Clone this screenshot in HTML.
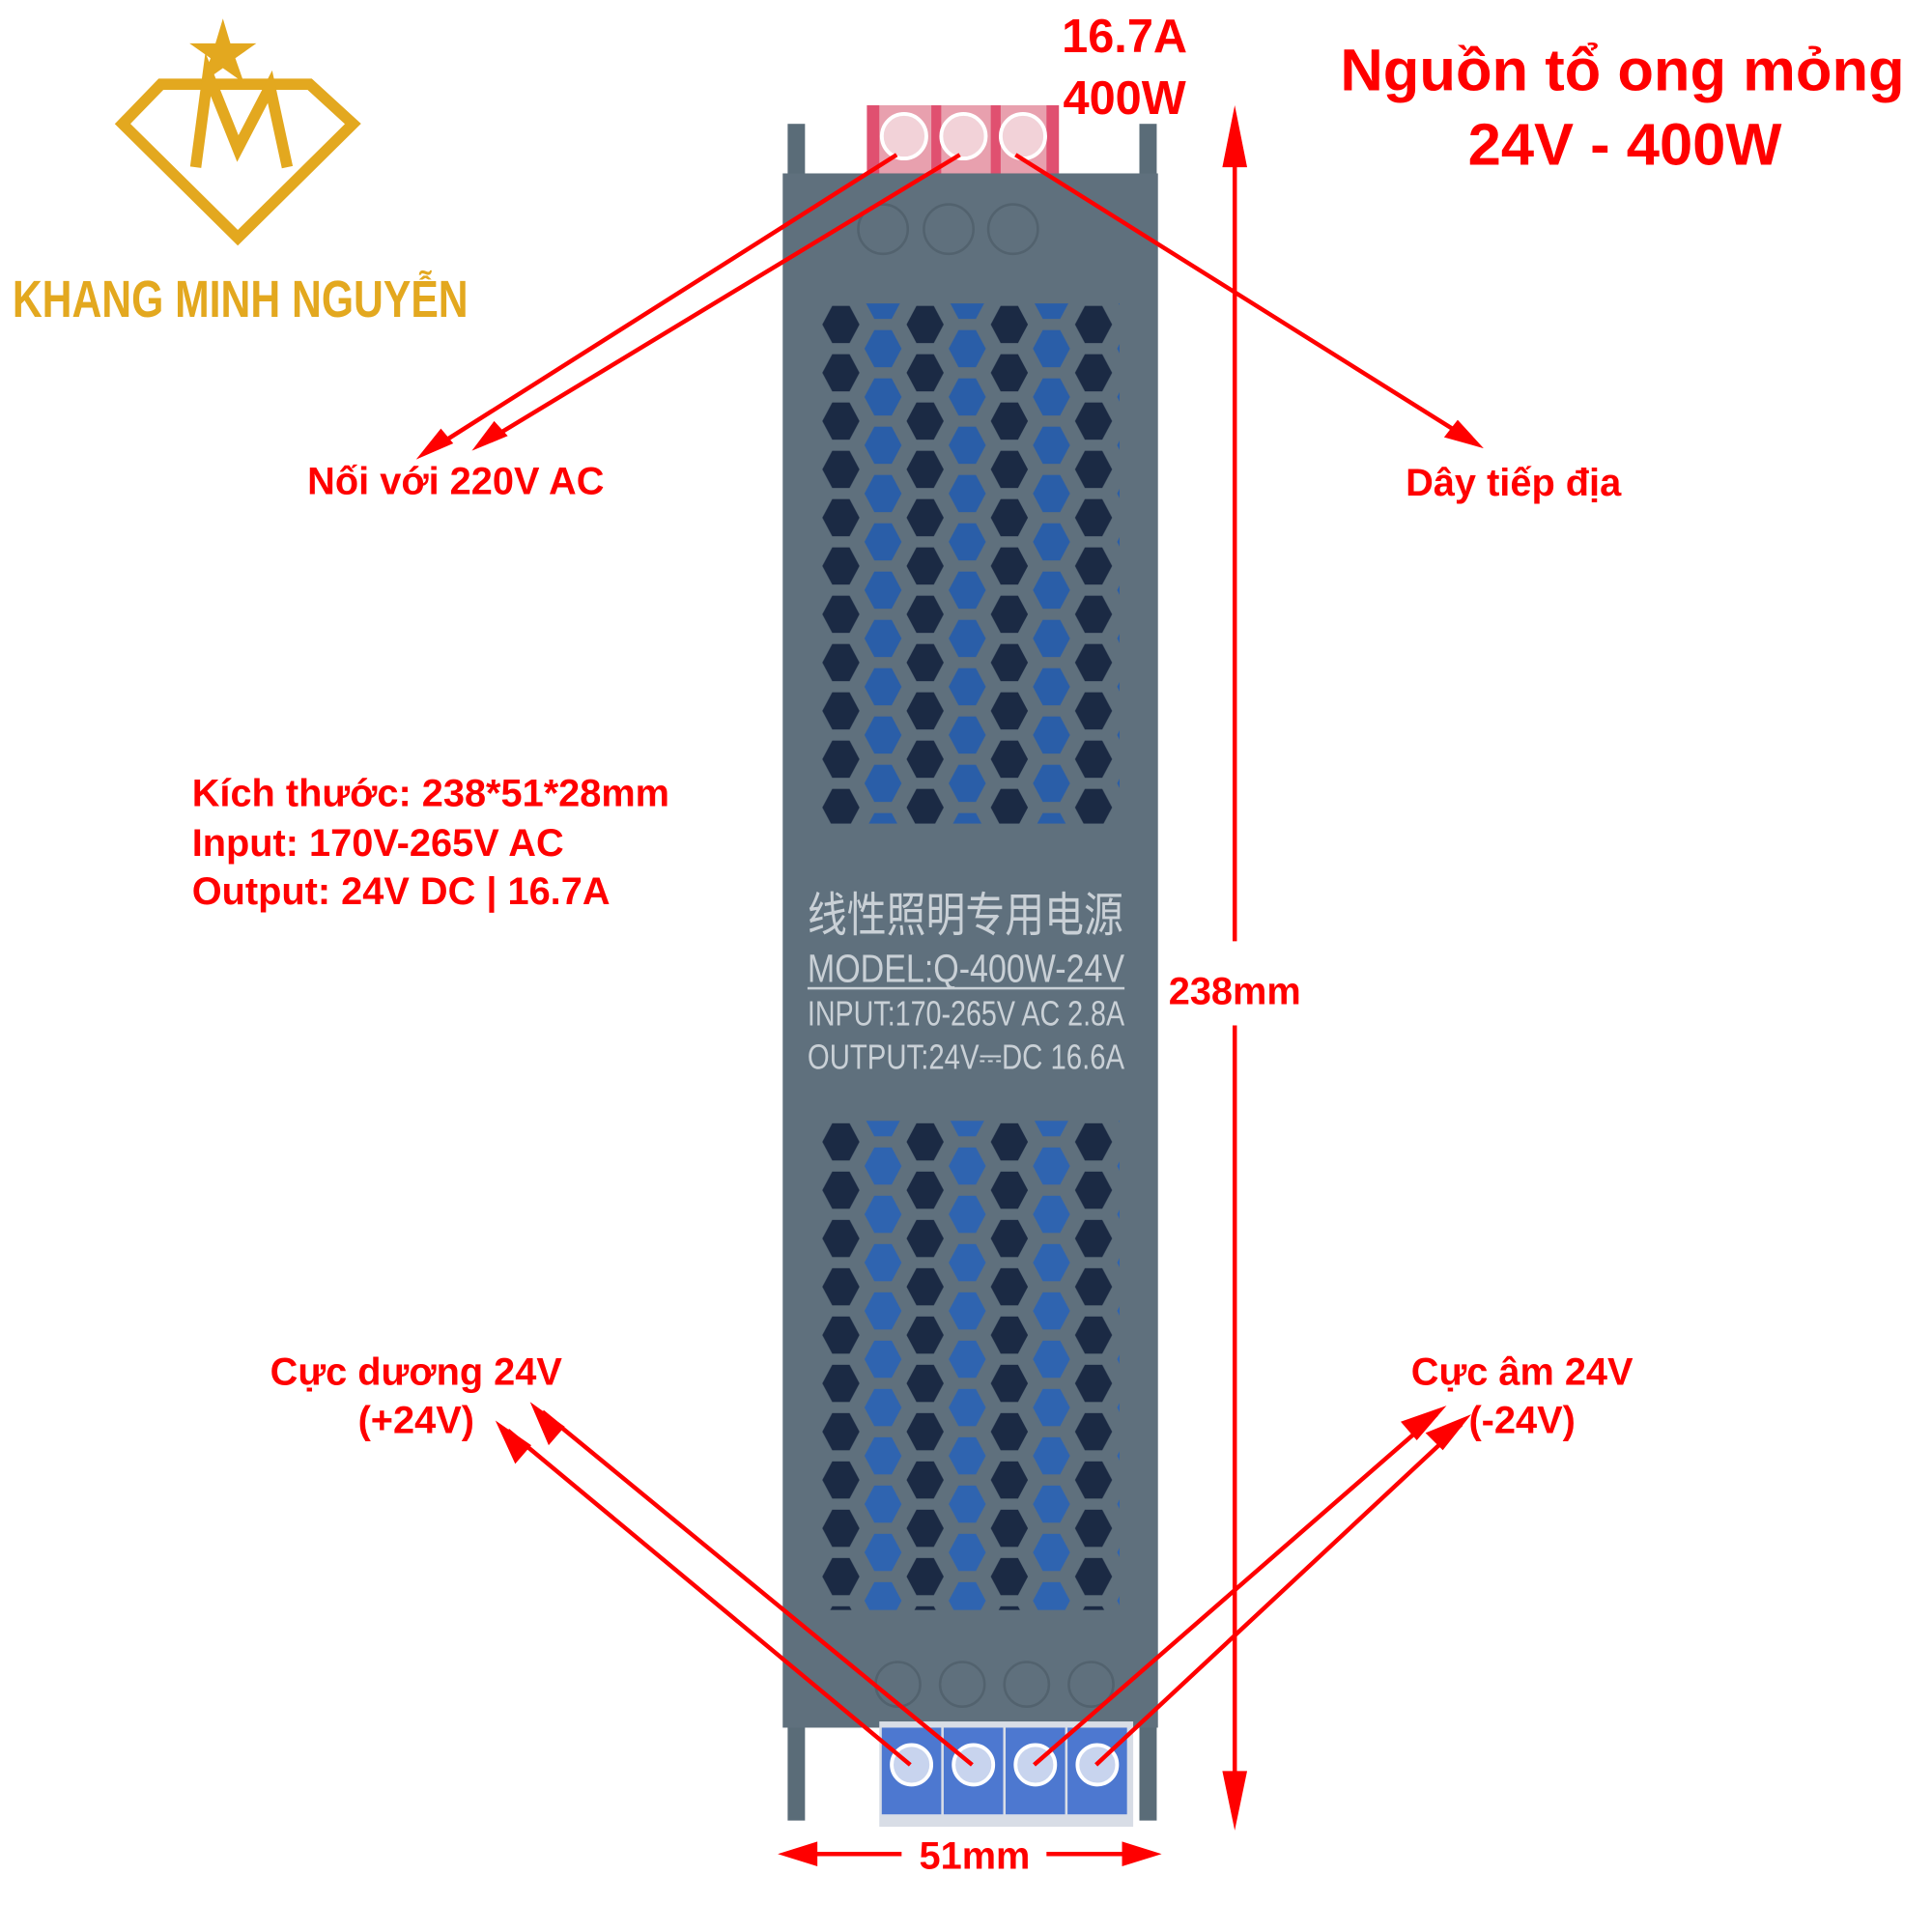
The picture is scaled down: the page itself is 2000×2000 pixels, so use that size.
<!DOCTYPE html>
<html><head><meta charset="utf-8"><style>
html,body{margin:0;padding:0;background:#fff}
svg{display:block}
text{font-family:"Liberation Sans","Noto Sans CJK SC",sans-serif;font-weight:bold}
</style></head><body>
<svg width="2000" height="2000" viewBox="0 0 1560 1560" xmlns="http://www.w3.org/2000/svg">
<defs>
<pattern id="hex" x="664" y="247" width="68" height="39" patternUnits="userSpaceOnUse">
<polygon points="8,0 22,0 30,15 22,30 8,30 0,15" fill="#1b2a44"/>
<polygon points="42,19.5 56,19.5 64,34.5 56,49.5 42,49.5 34,34.5" fill="#2a5ea8"/>
<polygon points="42,-19.5 56,-19.5 64,-4.5 56,10.5 42,10.5 34,-4.5" fill="#2a5ea8"/>
</pattern>
<pattern id="hex2" x="664" y="907" width="68" height="39" patternUnits="userSpaceOnUse">
<polygon points="8,0 22,0 30,15 22,30 8,30 0,15" fill="#1b2a44"/>
<polygon points="42,19.5 56,19.5 64,34.5 56,49.5 42,49.5 34,34.5" fill="#2f64b0"/>
<polygon points="42,-19.5 56,-19.5 64,-4.5 56,10.5 42,10.5 34,-4.5" fill="#2f64b0"/>
</pattern>
</defs>
<rect x="636" y="100" width="14" height="1370" fill="#5a6c78"/>
<rect x="920" y="100" width="14" height="1370" fill="#5a6c78"/>
<rect x="700" y="85" width="155" height="70" fill="#e8a0ae"/>
<rect x="700" y="85" width="10" height="70" fill="#e05070"/>
<rect x="752" y="85" width="8" height="70" fill="#e05070"/>
<rect x="800" y="85" width="8" height="70" fill="#e05070"/>
<rect x="845" y="85" width="10" height="70" fill="#e05070"/>
<circle cx="730" cy="110" r="18" fill="#f2d2d8" stroke="#fff" stroke-width="3"/>
<circle cx="778" cy="110" r="18" fill="#f2d2d8" stroke="#fff" stroke-width="3"/>
<circle cx="826" cy="110" r="18" fill="#f2d2d8" stroke="#fff" stroke-width="3"/>
<rect x="632" y="140" width="303" height="1255" fill="#5f707d"/>
<circle cx="713" cy="185" r="20" fill="none" stroke="#52626e" stroke-width="2"/>
<circle cx="766" cy="185" r="20" fill="none" stroke="#52626e" stroke-width="2"/>
<circle cx="818" cy="185" r="20" fill="none" stroke="#52626e" stroke-width="2"/>
<rect x="662" y="245" width="242" height="420" fill="url(#hex)"/>
<rect x="662" y="905" width="242" height="395" fill="url(#hex2)"/>
<circle cx="725" cy="1360" r="18" fill="none" stroke="#52626e" stroke-width="2"/>
<circle cx="777" cy="1360" r="18" fill="none" stroke="#52626e" stroke-width="2"/>
<circle cx="829" cy="1360" r="18" fill="none" stroke="#52626e" stroke-width="2"/>
<circle cx="881" cy="1360" r="18" fill="none" stroke="#52626e" stroke-width="2"/>
<rect x="710" y="1390" width="205" height="85" fill="#d8dde6"/>
<rect x="712" y="1395" width="48" height="70" fill="#4d78d0"/>
<rect x="762" y="1395" width="48" height="70" fill="#4d78d0"/>
<rect x="812" y="1395" width="48" height="70" fill="#4d78d0"/>
<rect x="862" y="1395" width="48" height="70" fill="#4d78d0"/>
<circle cx="736" cy="1425" r="16" fill="#c8d4ee" stroke="#fff" stroke-width="3"/>
<circle cx="786" cy="1425" r="16" fill="#c8d4ee" stroke="#fff" stroke-width="3"/>
<circle cx="836" cy="1425" r="16" fill="#c8d4ee" stroke="#fff" stroke-width="3"/>
<circle cx="886" cy="1425" r="16" fill="#c8d4ee" stroke="#fff" stroke-width="3"/>
<g fill="#c9d0d6">
<text x="652" y="752" font-size="38" textLength="255" lengthAdjust="spacingAndGlyphs" style="font-weight:normal">线性照明专用电源</text>
<text x="652" y="793" font-size="32" textLength="256" lengthAdjust="spacingAndGlyphs" style="font-weight:normal">MODEL:Q-400W-24V</text>
<rect x="652" y="797" width="256" height="2"/>
<text x="652" y="828" font-size="28" textLength="256" lengthAdjust="spacingAndGlyphs" style="font-weight:normal">INPUT:170-265V AC 2.8A</text>
<text x="652" y="863" font-size="28" textLength="256" lengthAdjust="spacingAndGlyphs" style="font-weight:normal">OUTPUT:24V⎓DC 16.6A</text>
</g>
<g stroke="#ff0000" stroke-width="3.5" fill="none">
<line x1="724" y1="125" x2="345" y2="365"/>
<line x1="775" y1="125" x2="390" y2="358"/>
<line x1="820" y1="125" x2="1190" y2="357"/>
<line x1="997" y1="100" x2="997" y2="760"/>
<line x1="997" y1="828" x2="997" y2="1465"/>
<line x1="640" y1="1497" x2="728" y2="1497"/>
<line x1="845" y1="1497" x2="928" y2="1497"/>
<line x1="735" y1="1425" x2="410" y2="1155"/>
<line x1="785" y1="1425" x2="438" y2="1140"/>
<line x1="835" y1="1425" x2="1160" y2="1142"/>
<line x1="885" y1="1425" x2="1180" y2="1150"/>
</g>
<g fill="#ff0000">
<polygon points="336,371 356,346 366,358"/>
<polygon points="381,364 399,340 410,352"/>
<polygon points="1198,362 1166,353 1177,339"/>
<polygon points="997,85 987,135 1007,135"/>
<polygon points="997,1478 987,1430 1007,1430"/>
<polygon points="628,1497 660,1487 660,1507"/>
<polygon points="938,1497 906,1487 906,1507"/>
<polygon points="400,1147 416,1182 429,1167"/>
<polygon points="428,1132 443,1167 456,1152"/>
<polygon points="1168,1135 1131,1148 1144,1163"/>
<polygon points="1188,1142 1151,1157 1165,1171"/>
</g>
<g fill="#ff0000">
<text x="908" y="42" font-size="38" text-anchor="middle">16.7A</text>
<text x="908" y="92" font-size="38" text-anchor="middle">400W</text>
<text x="1310" y="73" font-size="48" text-anchor="middle">Nguồn tổ ong mỏng</text>
<text x="1312" y="133" font-size="48" text-anchor="middle">24V - 400W</text>
<text x="368" y="399" font-size="31" text-anchor="middle">Nối với 220V AC</text>
<text x="1222" y="400" font-size="31" text-anchor="middle">Dây tiếp địa</text>
<text x="155" y="651" font-size="31">Kích thước: 238*51*28mm</text>
<text x="155" y="691" font-size="31">Input: 170V-265V AC</text>
<text x="155" y="730" font-size="31">Output: 24V DC | 16.7A</text>
<text x="997" y="811" font-size="31" text-anchor="middle">238mm</text>
<text x="787" y="1509" font-size="31" text-anchor="middle">51mm</text>
<text x="336" y="1118" font-size="31" text-anchor="middle">Cực dương 24V</text>
<text x="336" y="1157" font-size="31" text-anchor="middle">(+24V)</text>
<text x="1229" y="1118" font-size="31" text-anchor="middle">Cực âm 24V</text>
<text x="1229" y="1157" font-size="31" text-anchor="middle">(-24V)</text>
</g>
<g fill="none" stroke="#e3a81f" stroke-width="9">
<polygon points="130,68 250,68 285,100 192,192 99,100"/>
<path d="M158,135 L168,60 L192,120 L218,70 L232,135"/>
</g>
<polygon points="180,15 186,35 207,35 190,47 197,67 180,55 163,67 170,47 153,35 174,35" fill="#e3a81f"/>
<text x="10" y="256" font-size="42" fill="#e3a81f" textLength="368" lengthAdjust="spacingAndGlyphs">KHANG MINH NGUYỄN</text>
</svg>
</body></html>
